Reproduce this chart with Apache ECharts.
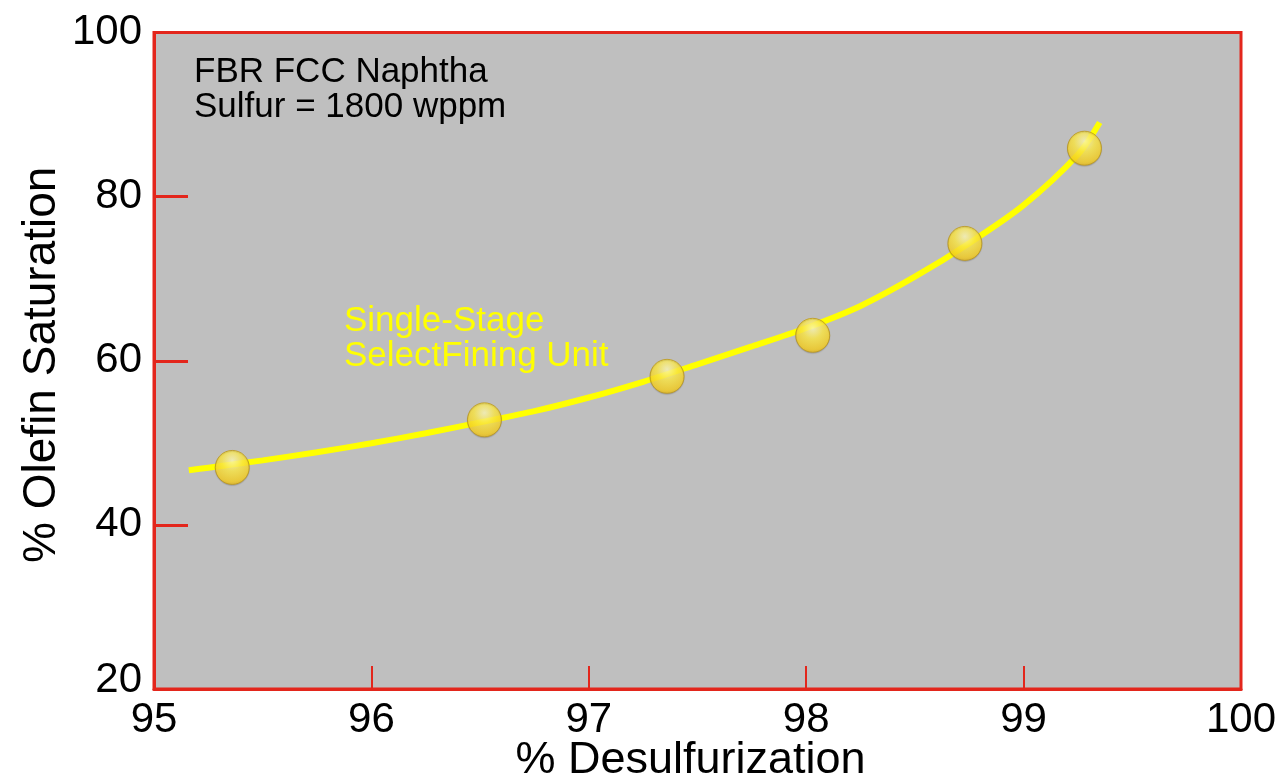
<!DOCTYPE html>
<html>
<head>
<meta charset="utf-8">
<script src="https://cdn.jsdelivr.net/npm/echarts@6/dist/echarts.min.js"></script>
<style>
html,body{margin:0;padding:0;background:#fff;}
#chart{width:1286px;height:782px;}
</style>
</head>
<body>
<div id="chart"></div>
<script>
// Measured points (% Desulfurization, % Olefin Saturation)
var pointX = [95.36, 96.52, 97.36, 98.03, 98.73, 99.28];
var pointY = [47.0, 52.8, 58.1, 63.1, 74.3, 85.9];

// Fitted curve
var curveX = [95.16, 95.25, 95.5, 95.75, 96.0, 96.25, 96.5, 96.75, 97.0, 97.25, 97.5, 97.75, 98.0, 98.25, 98.5, 98.75, 99.0, 99.25, 99.35];
var curveY = [46.65, 46.97, 47.86, 48.85, 49.94, 51.17, 52.49, 53.86, 55.52, 57.44, 59.57, 61.74, 63.99, 66.68, 70.24, 74.33, 78.96, 85.14, 89.04];

var xTicks = [95, 96, 97, 98, 99, 100];
var yTicks = [20, 40, 60, 80, 100];

var xTitle = '% Desulfurization';
var yTitle = '% Olefin Saturation';
var noteLines = ['FBR FCC Naphtha', 'Sulfur = 1800 wppm'];
var seriesLabel = ['Single-Stage', 'SelectFining Unit'];

var FONT = '"Liberation Sans", Arial, Helvetica, sans-serif';
var RED = '#e3261c';

var chart = echarts.init(document.getElementById('chart'), null, {renderer: 'canvas'});

var pts = pointX.map(function (x, i) { return [x, pointY[i]]; });
var curve = curveX.map(function (x, i) { return [x, curveY[i]]; });

var option = {
  backgroundColor: '#ffffff',
  animation: false,
  grid: {
    left: 154, top: 32.5, right: 45, bottom: 93,
    containLabel: false,
    outerBoundsMode: 'none',
    show: true,
    backgroundColor: '#bfbfbf',
    borderColor: RED,
    borderWidth: 3
  },
  xAxis: {
    type: 'value',
    min: xTicks[0], max: xTicks[xTicks.length - 1], interval: 1,
    name: xTitle,
    nameLocation: 'middle',
    nameGap: 49,
    nameMoveOverlap: false,
    nameTextStyle: {fontFamily: FONT, fontSize: 45, color: '#000', padding: [0, 14, 0, 0]},
    axisLine: {show: true, lineStyle: {color: RED, width: 3}},
    axisTick: {show: true, inside: true, length: 23, lineStyle: {color: RED, width: 2}},
    axisLabel: {fontFamily: FONT, fontSize: 42, color: '#000', margin: 10},
    splitLine: {show: false}
  },
  yAxis: {
    type: 'value',
    min: yTicks[0], max: yTicks[yTicks.length - 1], interval: 20,
    name: yTitle,
    nameLocation: 'middle',
    nameGap: 89,
    nameRotate: 90,
    nameMoveOverlap: false,
    nameTextStyle: {fontFamily: FONT, fontSize: 46, color: '#000', padding: [0, 8, 0, 0]},
    axisLine: {show: true, lineStyle: {color: RED, width: 3}},
    axisTick: {show: true, inside: true, length: 34, lineStyle: {color: RED, width: 3}},
    axisLabel: {
      fontFamily: FONT, fontSize: 42, color: '#000', margin: 12,
      formatter: function (v) { return v === yTicks[0] ? '{lo|' + v + '}' : String(v); },
      rich: {lo: {fontFamily: FONT, fontSize: 42, color: '#000', padding: [0, 0, 18, 0]}}
    },
    splitLine: {show: false}
  },
  graphic: [
    {
      type: 'text', left: 194, top: 55, z: 10,
      style: {text: noteLines.join('\n'), font: '35px ' + FONT, fill: '#000', lineHeight: 35}
    },
    {
      type: 'text', left: 344, top: 304, z: 10,
      style: {text: seriesLabel.join('\n'), font: '35px ' + FONT, fill: '#ffff00', lineHeight: 35}
    }
  ],
  series: [
    {
      type: 'line',
      data: curve,
      smooth: 0.3,
      showSymbol: false,
      symbol: 'none',
      lineStyle: {color: '#ffff00', width: 6},
      z: 2
    },
    {
      type: 'scatter',
      data: pts,
      symbol: 'circle',
      symbolSize: 34,
      itemStyle: {
        color: {
          type: 'radial', x: 0.5, y: 0.3, r: 0.75,
          colorStops: [
            {offset: 0, color: '#fffab8'},
            {offset: 0.4, color: '#ffea45'},
            {offset: 0.8, color: '#f8d020'},
            {offset: 1, color: '#dcaa14'}
          ]
        },
        borderColor: '#b8951e',
        borderWidth: 1,
        shadowBlur: 1,
        shadowColor: 'rgba(0,0,0,0.15)',
        shadowOffsetY: 1
      },
      z: 3
    }
  ]
};
chart.setOption(option);
</script>
</body>
</html>
